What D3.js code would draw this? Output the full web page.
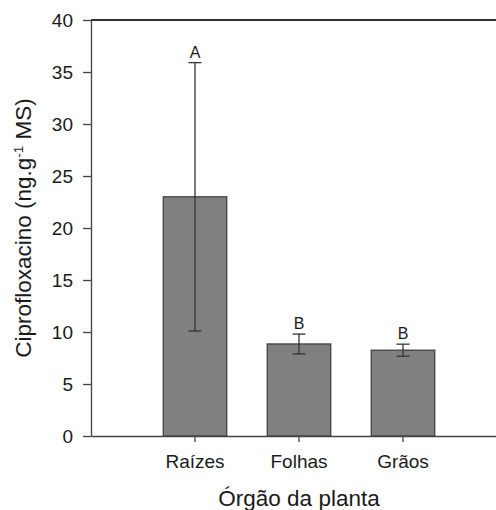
<!DOCTYPE html>
<html>
<head>
<meta charset="utf-8">
<script src="https://cdn.jsdelivr.net/npm/d3@7"></script>
<style>
  body { margin: 0; background: #fff; }
  svg { display: block; font-family: "Liberation Sans", Arial, sans-serif; }
  .axis path, .axis line { stroke: #444; stroke-width: 1.3; }
  .axis text { fill: #1a1a1a; font-size: 19px; }
</style>
</head>
<body>
<div id="chart"></div>
<script>
    var w = 496;
    var h = 510;

    // dados
    var categories = ['Raízes', 'Folhas', 'Grãos'];
    var means = [23.0, 8.85, 8.25];
    var errors = [12.9, 0.95, 0.58];
    var letters = ['A', 'B', 'B'];
    var yTicks = [0, 5, 10, 15, 20, 25, 30, 35, 40];

    var plot = { left: 91, right: 507, top: 20, bottom: 436 };

    var x = d3.scaleBand()
              .domain(categories)
              .range([plot.left, plot.right])
              .paddingInner(0.39)
              .paddingOuter(0.695);

    var y = d3.scaleLinear()
              .domain([0, 40])
              .range([plot.bottom, plot.top]);

    var data = categories.map(function(c, i) {
        return { cat: c, mean: means[i], err: errors[i], letter: letters[i] };
    });

    var svg = d3.select('#chart').append('svg')
                .attr('width', w)
                .attr('height', h);

    // barras
    svg.selectAll('.bar')
       .data(data)
       .enter().append('rect')
       .attr('class', 'bar')
       .attr('x', function(d) { return x(d.cat); })
       .attr('y', function(d) { return y(d.mean); })
       .attr('width', x.bandwidth())
       .attr('height', function(d) { return y(0) - y(d.mean); })
       .style('fill', '#808080')
       .style('stroke', '#404040')
       .style('stroke-width', 1.3);

    // barras de erro
    var eb = svg.selectAll('.err')
        .data(data)
        .enter().append('g')
        .attr('class', 'err')
        .attr('transform', function(d) {
            return 'translate(' + (x(d.cat) + x.bandwidth() / 2) + ',0)';
        })
        .style('stroke', '#333')
        .style('stroke-width', 1.3);

    eb.append('line')
      .attr('y1', function(d) { return y(d.mean - d.err); })
      .attr('y2', function(d) { return y(d.mean + d.err); });
    eb.append('line')
      .attr('x1', -6.5).attr('x2', 6.5)
      .attr('y1', function(d) { return y(d.mean + d.err); })
      .attr('y2', function(d) { return y(d.mean + d.err); });
    eb.append('line')
      .attr('x1', -6.5).attr('x2', 6.5)
      .attr('y1', function(d) { return y(d.mean - d.err); })
      .attr('y2', function(d) { return y(d.mean - d.err); });

    // letras de significância
    svg.selectAll('.letter')
       .data(data)
       .enter().append('text')
       .attr('class', 'letter')
       .attr('x', function(d) { return x(d.cat) + x.bandwidth() / 2; })
       .attr('y', function(d) { return y(d.mean + d.err) - 5; })
       .attr('text-anchor', 'middle')
       .style('font-size', '16px')
       .style('fill', '#1a1a1a')
       .text(function(d) { return d.letter; });

    // eixos
    var yAxis = d3.axisLeft(y)
                  .tickValues(yTicks)
                  .tickSizeInner(8)
                  .tickSizeOuter(0)
                  .tickPadding(10);
    var xAxis = d3.axisBottom(x)
                  .tickSizeInner(6)
                  .tickSizeOuter(0)
                  .tickPadding(13);

    svg.append('g')
       .attr('class', 'y axis')
       .attr('transform', 'translate(' + plot.left + ',0)')
       .call(yAxis);

    svg.append('g')
       .attr('class', 'x axis')
       .attr('transform', 'translate(0,' + plot.bottom + ')')
       .call(xAxis);

    // linha superior
    svg.append('line')
       .attr('x1', plot.left).attr('x2', plot.right)
       .attr('y1', y(40)).attr('y2', y(40))
       .style('stroke', '#333')
       .style('stroke-width', 2);

    // títulos
    svg.append('text')
       .attr('x', x('Folhas') + x.bandwidth() / 2)
       .attr('y', 506)
       .attr('text-anchor', 'middle')
       .style('font-size', '22.5px')
       .style('fill', '#1a1a1a')
       .text('Órgão da planta');

    var yt = svg.append('text')
       .attr('transform', 'translate(31,228) rotate(-90)')
       .attr('text-anchor', 'middle')
       .style('font-size', '22.5px')
       .style('fill', '#1a1a1a');
    yt.append('tspan').text('Ciprofloxacino (ng.g');
    yt.append('tspan').attr('dy', -8).style('font-size', '13.5px').text('-1');
    yt.append('tspan').attr('dy', 8).text(' MS)');
</script>
</body>
</html>
